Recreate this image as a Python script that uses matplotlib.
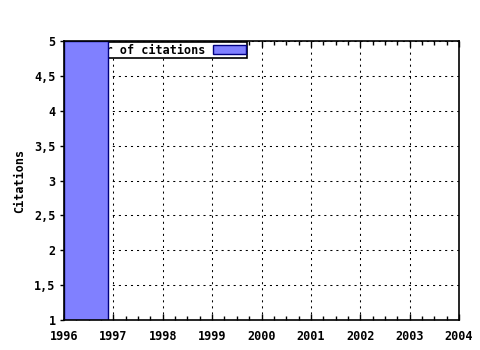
import numpy as np
import matplotlib
matplotlib.use("Agg")
import matplotlib.pyplot as plt
from matplotlib.ticker import MultipleLocator, FuncFormatter

# data
years = [1996]
citations = [5]
year_ticks = [1996, 1997, 1998, 1999, 2000, 2001, 2002, 2003, 2004]
y_ticks = [1, 1.5, 2, 2.5, 3, 3.5, 4, 4.5, 5]

plt.rcParams['font.family'] = ['DejaVu Sans Mono']
plt.rcParams['font.weight'] = 'bold'
plt.rcParams['axes.labelweight'] = 'bold'
plt.rcParams['font.size'] = 8.5

fig = plt.figure(figsize=(4.8, 3.5), dpi=100)
ax = fig.add_axes([64/480, 30/350, 395/480, 279/350])

bars = ax.bar(years, citations, width=0.9, align='edge', color='#8080ff',
	edgecolor='#000080', linewidth=1, label='Number of citations', zorder=10)

ax.set_xlim(year_ticks[0], year_ticks[-1])
ax.set_ylim(y_ticks[0], y_ticks[-1])
ax.set_xticks(year_ticks)
ax.set_yticks(y_ticks)
ax.xaxis.set_minor_locator(MultipleLocator(0.25))
ax.yaxis.set_major_formatter(FuncFormatter(lambda v, p: ('%g' % v).replace('.', ',')))

## sparse dotted grid, about 2px on / 4px off
ax.grid(True, which='major', color='black', linestyle=(0, (2, 3.8)), linewidth=0.75)
ax.set_axisbelow(True)

for s in ax.spines.values():
	s.set_linewidth(1.2)
	s.set_zorder(20)

ax.tick_params(axis='x', which='both', direction='in', top=True, bottom=True, pad=7)
ax.tick_params(axis='x', which='major', length=4, width=1)
ax.tick_params(axis='x', which='minor', length=3, width=1)
ax.tick_params(axis='y', which='major', direction='out', length=3, width=1, pad=3)

ax.set_ylabel('Citations', labelpad=6)

## legend sits behind the bar, like in the original
leg = ax.legend(loc='upper left', bbox_to_anchor=(0.012, 0.996), borderaxespad=0,
	markerfirst=False, fancybox=False, framealpha=1, edgecolor='black',
	handlelength=2.8, handleheight=0.7, handletextpad=0.6, borderpad=0.12)
leg.get_frame().set_linewidth(1.2)
leg.set_zorder(5)

fig.savefig('out.png', dpi=100)
